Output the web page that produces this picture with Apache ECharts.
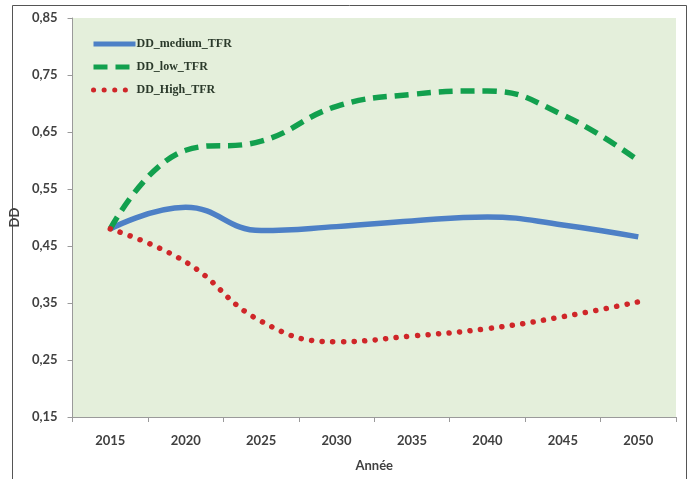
<!DOCTYPE html>
<html>
<head>
<meta charset="utf-8">
<script src="https://cdn.jsdelivr.net/npm/echarts@6/dist/echarts.min.js"></script>
<style>
  html, body { margin: 0; padding: 0; background: #fff; }
  #chart { width: 688px; height: 479px; }
</style>
</head>
<body>
<div id="chart"></div>
<script>
const years = ['2015', '2020', '2025', '2030', '2035', '2040', '2045', '2050']
const medium = [0.48, 0.518, 0.477, 0.484, 0.494, 0.501, 0.487, 0.466]
const low = [0.48, 0.618, 0.634, 0.695, 0.716, 0.722, 0.68, 0.60]
const high = [0.48, 0.422, 0.318, 0.282, 0.292, 0.305, 0.326, 0.352]
const seriesNames = ['DD_medium_TFR', 'DD_low_TFR', 'DD_High_TFR']

const labelFont = { fontFamily: 'Lato', fontWeight: 'bold', fontSize: 13, color: '#404040' }

const chart = echarts.init(document.getElementById('chart'))
chart.setOption({
  backgroundColor: '#fff',
  animation: false,
  graphic: [{
    type: 'rect', left: 10, top: 3, z: -10,
    shape: { width: 674, height: 476 },
    style: { fill: 'none', stroke: '#555', lineWidth: 1 }
  }],
  grid: {
    left: 68, right: 12, top: 18, bottom: 62,
    show: true, backgroundColor: '#e4efdb', borderWidth: 0
  },
  legend: {
    orient: 'vertical', left: 86, top: 33,
    itemWidth: 42, itemHeight: 12, itemGap: 11,
    data: seriesNames,
    itemStyle: { opacity: 0 },
    lineStyle: { width: 5 },
    textStyle: { fontFamily: 'Liberation Serif', fontWeight: 'bold', fontSize: 12, color: '#2b3a2b', padding: [0, 0, 0, -4] }
  },
  xAxis: {
    type: 'category', data: years, boundaryGap: true,
    name: 'Année', nameLocation: 'middle', nameGap: 42,
    nameTextStyle: labelFont,
    axisLine: { lineStyle: { color: '#9a9a9a' } },
    axisTick: { show: true, length: 5, lineStyle: { color: '#9a9a9a' } },
    axisLabel: Object.assign({ margin: 17 }, labelFont),
    splitLine: { show: false }
  },
  yAxis: {
    type: 'value', min: 0.15, max: 0.85, interval: 0.1,
    name: 'DD', nameLocation: 'middle', nameGap: 46, nameRotate: 90,
    nameTextStyle: labelFont,
    axisLine: { show: true, lineStyle: { color: '#9a9a9a' } },
    axisTick: { show: true, length: 5, lineStyle: { color: '#9a9a9a' } },
    axisLabel: Object.assign({ margin: 15, formatter: v => v.toFixed(2).replace('.', ',') }, labelFont),
    splitLine: { show: false }
  },
  series: [{
    name: seriesNames[0], type: 'line', data: medium, smooth: 0.45, symbol: 'none',
    lineStyle: { color: '#4d80c6', width: 5.5 },
    itemStyle: { color: '#4d80c6' }
  }, {
    name: seriesNames[1], type: 'line', data: low, smooth: 0.45, symbol: 'none',
    lineStyle: { color: '#12a04e', width: 5.5, type: [14, 8] },
    itemStyle: { color: '#12a04e' }
  }, {
    name: seriesNames[2], type: 'line', data: high, smooth: 0.45, symbol: 'none',
    lineStyle: { color: '#cf2629', width: 5.5, type: [0.1, 10.5], cap: 'round' },
    itemStyle: { color: '#cf2629' }
  }]
})
</script>
</body>
</html>
